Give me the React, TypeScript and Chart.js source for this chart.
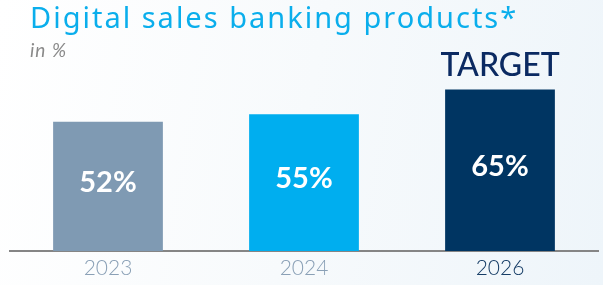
import React, { useEffect, useRef } from "react";
import { Chart, registerables } from "chart.js";

Chart.register(...registerables);

const categories = ["2023", "2024", "2026"];
const values = [52, 55, 65];
const valueLabels = ["52%", "55%", "65%"];
const topNotes = ["", "", "TARGET"];
const barColors = ["#7f9ab3", "#00aeef", "#003562"];
const tickColors = ["#8aa0b6", "#8aa0b6", "#163d66"];
const titleText = "Digital sales banking products*";
const subtitleText = "in %";

const FONT = "Lato, 'Noto Sans', sans-serif";
const WIDE = "'Noto Sans', sans-serif";

const textPlugin = {
  id: "texts",
  afterDatasetsDraw(chart: any) {
    const ctx = chart.ctx;
    const meta = chart.getDatasetMeta(0);
    ctx.save();
    ctx.textAlign = "left";
    ctx.textBaseline = "alphabetic";
    ctx.fillStyle = "#0aaeec";
    ctx.font = `400 29px ${WIDE}`;
    (ctx as any).letterSpacing = "2px";
    ctx.fillText(titleText, 30, 28);
    ctx.fillStyle = "#8a8a8a";
    ctx.font = `italic 400 19px ${FONT}`;
    (ctx as any).letterSpacing = "1px";
    ctx.fillText(subtitleText, 30, 57);
    (ctx as any).letterSpacing = "0px";
    meta.data.forEach((bar: any, i: number) => {
      const cy = (bar.y + bar.base) / 2 - 4;
      ctx.textAlign = "center";
      ctx.textBaseline = "middle";
      ctx.fillStyle = "#ffffff";
      ctx.font = `700 29px ${FONT}`;
      ctx.fillText(valueLabels[i], bar.x, cy);
      if (topNotes[i]) {
        ctx.textBaseline = "alphabetic";
        ctx.fillStyle = "#0b2a62";
        ctx.font = `500 32px ${FONT}`;
        ctx.fillText(topNotes[i], bar.x, bar.y - 13);
      }
    });
    ctx.restore();
  },
};

export default function App() {
  const ref = useRef<HTMLCanvasElement | null>(null);
  useEffect(() => {
    document.body.style.margin = "0";
    const chart = new Chart(ref.current as HTMLCanvasElement, {
      type: "bar",
      data: {
        labels: categories,
        datasets: [
          {
            data: values,
            backgroundColor: barColors,
            barPercentage: 0.56,
            categoryPercentage: 1,
            borderWidth: 0,
          },
        ],
      },
      options: {
        animation: false,
        responsive: false,
        maintainAspectRatio: false,
        layout: { padding: { left: 10, right: 5, top: 2.5, bottom: 0 } },
        plugins: {
          legend: { display: false },
          tooltip: { enabled: false },
          title: { display: false },
        },
        scales: {
          y: { display: false, min: 0, max: 100 },
          x: {
            grid: { display: false, drawTicks: false },
            border: { display: true, color: "#858585", width: 2 },
            ticks: {
              color: tickColors,
              font: { family: FONT, size: 21, weight: 300, lineHeight: 1 },
              padding: 6.5,
            },
          },
        },
      },
      plugins: [textPlugin],
    });
    return () => chart.destroy();
  }, []);
  return (
    <div
      style={{
        position: "absolute",
        left: 0,
        top: 0,
        width: 603,
        height: 285,
        background: "linear-gradient(100deg, #ffffff 0%, #f7fafc 50%, #eef5fa 100%)",
      }}
    >
      <canvas ref={ref} width={603} height={285} style={{ display: "block" }} />
    </div>
  );
}
